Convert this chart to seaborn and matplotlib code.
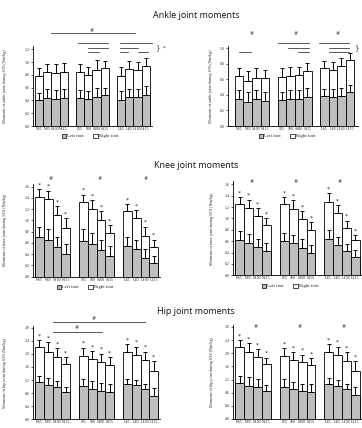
import numpy as np
import pandas as pd
import seaborn as sns
import matplotlib
matplotlib.use('Agg')
import matplotlib.pyplot as plt
from matplotlib.patches import Patch
from matplotlib.ticker import FormatStrFormatter

sns.set_theme(style='ticks')
plt.rcParams['font.family'] = ['Liberation Serif', 'DejaVu Serif']

# conditions, one bar each
labels = ['N65', 'N80', 'N100', 'N115', 'S65', 'S80', 'S100', 'S115',
          'U65', 'U80', 'U100', 'U115']
pos = [0, 1, 2, 3, 5, 6, 7, 8, 10, 11, 12, 13]

# ankle
ankle_l_left = [0.41, 0.44, 0.43, 0.44, 0.44, 0.42, 0.46, 0.48, 0.41, 0.46, 0.46, 0.49]
ankle_l_left_sd = [0.11, 0.14, 0.14, 0.14, 0.13, 0.13, 0.13, 0.12, 0.13, 0.12, 0.12, 0.14]
ankle_l_right = [0.38, 0.40, 0.40, 0.41, 0.41, 0.38, 0.42, 0.42, 0.38, 0.43, 0.41, 0.45]
ankle_l_right_sd = [0.12, 0.13, 0.14, 0.13, 0.12, 0.12, 0.15, 0.11, 0.13, 0.13, 0.13, 0.13]

ankle_r_left = [0.35, 0.31, 0.34, 0.32, 0.33, 0.34, 0.34, 0.37, 0.38, 0.37, 0.39, 0.43]
ankle_r_left_sd = [0.11, 0.12, 0.12, 0.12, 0.11, 0.12, 0.12, 0.12, 0.10, 0.11, 0.10, 0.10]
ankle_r_right = [0.29, 0.27, 0.28, 0.29, 0.30, 0.30, 0.31, 0.33, 0.36, 0.35, 0.38, 0.41]
ankle_r_right_sd = [0.10, 0.12, 0.12, 0.11, 0.11, 0.12, 0.11, 0.11, 0.09, 0.10, 0.10, 0.10]

# knee
knee_l_left = [0.70, 0.66, 0.53, 0.41, 0.63, 0.58, 0.47, 0.37, 0.54, 0.50, 0.34, 0.24]
knee_l_left_sd = [0.18, 0.19, 0.17, 0.18, 0.21, 0.20, 0.19, 0.18, 0.17, 0.16, 0.15, 0.12]
knee_l_right = [0.72, 0.72, 0.56, 0.46, 0.69, 0.63, 0.53, 0.40, 0.62, 0.55, 0.38, 0.28]
knee_l_right_sd = [0.14, 0.15, 0.16, 0.17, 0.14, 0.15, 0.16, 0.15, 0.13, 0.14, 0.17, 0.14]

knee_r_left = [0.62, 0.57, 0.49, 0.42, 0.60, 0.56, 0.48, 0.39, 0.63, 0.53, 0.42, 0.32]
knee_r_left_sd = [0.16, 0.16, 0.15, 0.14, 0.15, 0.15, 0.16, 0.15, 0.17, 0.15, 0.13, 0.12]
knee_r_right = [0.63, 0.61, 0.56, 0.46, 0.65, 0.61, 0.51, 0.41, 0.66, 0.56, 0.42, 0.30]
knee_r_right_sd = [0.13, 0.15, 0.13, 0.12, 0.13, 0.15, 0.14, 0.14, 0.15, 0.14, 0.12, 0.09]

# hip
hip_l_left = [1.13, 1.04, 0.98, 0.85, 1.01, 0.93, 0.86, 0.83, 1.08, 1.04, 0.92, 0.72]
hip_l_left_sd = [0.19, 0.21, 0.19, 0.15, 0.22, 0.24, 0.24, 0.26, 0.16, 0.16, 0.16, 0.23]
hip_l_right = [1.08, 1.03, 0.93, 0.83, 0.94, 0.90, 0.88, 0.82, 0.99, 0.93, 0.88, 0.76]
hip_l_right_sd = [0.21, 0.28, 0.26, 0.22, 0.24, 0.26, 0.27, 0.26, 0.22, 0.25, 0.27, 0.30]

hip_r_left = [1.11, 1.01, 0.96, 0.85, 0.98, 0.90, 0.86, 0.83, 1.05, 1.01, 0.90, 0.72]
hip_r_left_sd = [0.20, 0.28, 0.25, 0.18, 0.23, 0.23, 0.22, 0.23, 0.19, 0.17, 0.16, 0.26]
hip_r_right = [1.07, 1.04, 0.93, 0.82, 0.94, 0.91, 0.86, 0.80, 0.99, 0.95, 0.88, 0.74]
hip_r_right_sd = [0.22, 0.27, 0.23, 0.20, 0.23, 0.22, 0.24, 0.23, 0.24, 0.24, 0.26, 0.30]

GRAY = '#bebebe'
W, H = 362, 428

fig = plt.figure(figsize=(W / 100, H / 100), dpi=100)
fig.patch.set_facecolor('white')


def make_axes(ax_x, b0, u, xmax, y0, py, ytop):
    # place an axes using pixel geometry of the reference
    xmin = -0.5 - (b0 - ax_x) / u
    x1 = b0 + (xmax + 0.5) * u
    ytop_px = y0 - ytop * py
    ax = fig.add_axes([ax_x / W, 1 - y0 / H, (x1 - ax_x) / W, (y0 - ytop_px) / H])
    ax.set_xlim(xmin, xmax)
    ax.set_ylim(0, ytop)
    return ax


def draw_panel(ax, left, left_sd, right, right_sd, ylabel, yticks, stars):
    total = np.array(left) + np.array(right)
    df = pd.DataFrame({'pos': pos, 'left': left, 'total': total})
    sns.barplot(data=df, x='pos', y='total', native_scale=True, color='white',
                edgecolor='black', linewidth=0.6, width=1, saturation=1,
                errorbar=None, ax=ax)
    sns.barplot(data=df, x='pos', y='left', native_scale=True, color=GRAY,
                edgecolor='black', linewidth=0.6, width=1, saturation=1,
                errorbar=None, ax=ax)
    ax.errorbar(pos, left, yerr=[np.zeros(12), left_sd], fmt='none',
                ecolor='black', elinewidth=0.7, capsize=1.6, capthick=0.7, zorder=4)
    ax.errorbar(pos, total, yerr=[np.zeros(12), right_sd], fmt='none',
                ecolor='black', elinewidth=0.7, capsize=1.6, capthick=0.7, zorder=4)
    if stars:
        for x, t, s in zip(pos, total, right_sd):
            ax.annotate('*', (x, t + s), xytext=(0, 1.2), textcoords='offset points',
                        ha='center', va='bottom', fontsize=4.5, family='DejaVu Sans',
                        annotation_clip=False)
    ax.set_xticks(pos)
    ax.set_xticklabels(labels, fontsize=2.8)
    ax.set_yticks(yticks)
    ax.yaxis.set_major_formatter(FormatStrFormatter('%.1f'))
    ax.tick_params(axis='y', labelsize=2.8, length=1.5, width=0.5, pad=0.8)
    ax.tick_params(axis='x', length=0, pad=0.8)
    ax.set_xlabel('')
    ax.set_ylabel(ylabel, fontsize=3.0)
    for sp in ['top', 'right']:
        ax.spines[sp].set_visible(False)
    for sp in ['left', 'bottom']:
        ax.spines[sp].set_linewidth(0.6)
        ax.spines[sp].set_color('black')


def seg(ax, x0, x1, y, lw=0.7):
    ax.plot([x0, x1], [y, y], color='#555555', lw=lw, clip_on=False, zorder=5)


def mark(ax, x, y, s='#', fs=3.6):
    ax.text(x, y, s, ha='center', va='center', fontsize=fs, family='DejaVu Sans',
            color='#333333', clip_on=False)


def add_legend(cx, cy):
    handles = [Patch(facecolor=GRAY, edgecolor='black', linewidth=0.5, label='Left foot'),
               Patch(facecolor='white', edgecolor='black', linewidth=0.5, label='Right foot')]
    fig.legend(handles=handles, loc='center', bbox_to_anchor=(cx / W, 1 - cy / H),
               ncol=2, frameon=False, fontsize=3.4, handlelength=0.9, handleheight=0.9,
               handletextpad=0.3, columnspacing=2.0, borderaxespad=0, borderpad=0)


t_ank = np.round(np.arange(0, 1.21, 0.2), 1)
t_ank_r = np.round(np.arange(0, 1.01, 0.2), 1)
t_knee = np.round(np.arange(0, 1.61, 0.2), 1)
t_hip = np.round(np.arange(0, 2.81, 0.4), 1)

# ---- ankle ----
ax1 = make_axes(33, 35, 8.2, 13.75, 126, 63.9, 1.25)
draw_panel(ax1, ankle_l_left, ankle_l_left_sd, ankle_l_right, ankle_l_right_sd,
           'Moments of ankle joint during STS (Nm/kg)', t_ank, False)
ax1.yaxis.set_label_coords(-26 / 119, 0.5)
seg(ax1, 1.4, 11.7, 1.455)
mark(ax1, 6.4, 1.50)
seg(ax1, 4.7, 8.4, 1.30)
seg(ax1, 6.0, 8.4, 1.22)
seg(ax1, 6.0, 7.3, 1.16)
seg(ax1, 9.9, 13.8, 1.30)
seg(ax1, 9.9, 12.1, 1.22)
seg(ax1, 9.9, 10.8, 1.16)
seg(ax1, 12.1, 13.3, 1.16)
mark(ax1, 14.4, 1.22, '}', 5)
mark(ax1, 15.2, 1.22, '*', 4)
add_legend(90, 136)

ax2 = make_axes(228, 235, 8.5, 14.0, 126, 78, 1.02)
draw_panel(ax2, ankle_r_left, ankle_r_left_sd, ankle_r_right, ankle_r_right_sd,
           'Moments of ankle joint during STS (Nm/kg)', t_ank_r, False)
ax2.yaxis.set_label_coords(-15 / 130, 0.5)
for x in [1.5, 6.6, 11.6]:
    mark(ax2, x, 1.19)
seg(ax2, 0.0, 1.4, 0.95)
seg(ax2, 4.6, 8.2, 1.06)
seg(ax2, 5.7, 8.2, 1.00)
seg(ax2, 6.9, 8.2, 0.95)
seg(ax2, 9.4, 12.9, 1.06)
seg(ax2, 10.6, 12.9, 1.00)
seg(ax2, 10.6, 12.9, 0.95)
mark(ax2, 13.8, 1.0, '}', 5)
add_legend(287, 136)

# ---- knee ----
ax3 = make_axes(33, 35, 8.8, 13.75, 276.7, 56.25, 1.65)
draw_panel(ax3, knee_l_left, knee_l_left_sd, knee_l_right, knee_l_right_sd,
           'Moments of knee joint during STS (Nm/kg)', t_knee, True)
ax3.yaxis.set_label_coords(-26 / 127, 0.5)
for x in [1.3, 6.9, 12.1]:
    mark(ax3, x, 1.74)
add_legend(85, 287)

ax4 = make_axes(232.7, 235.3, 8.9, 14.0, 275.3, 56.9, 1.65)
draw_panel(ax4, knee_r_left, knee_r_left_sd, knee_r_right, knee_r_right_sd,
           'Moments of knee joint during STS (Nm/kg)', t_knee, True)
ax4.yaxis.set_label_coords(-19 / 131, 0.5)
for x in [1.3, 6.3, 11.2]:
    mark(ax4, x, 1.645)
add_legend(290, 286)

# ---- hip ----
ax5 = make_axes(33, 35, 8.8, 13.75, 419.3, 32.7, 2.85)
draw_panel(ax5, hip_l_left, hip_l_left_sd, hip_l_right, hip_l_right_sd,
           'Moments of hip joint during STS (Nm/kg)', t_hip, True)
ax5.yaxis.set_label_coords(-26 / 127, 0.5)
seg(ax5, 1.6, 12.0, 2.975)
mark(ax5, 6.2, 3.07)
seg(ax5, 1.6, 7.1, 2.68)
mark(ax5, 4.2, 2.80)
add_legend(85, 432)

ax6 = make_axes(232.7, 235.3, 8.9, 14.0, 419, 32.86, 2.85)
draw_panel(ax6, hip_r_left, hip_r_left_sd, hip_r_right, hip_r_right_sd,
           'Moments of hip joint during STS (Nm/kg)', t_hip, True)
ax6.yaxis.set_label_coords(-19 / 131, 0.5)
for x in [1.8, 6.7, 11.7]:
    mark(ax6, x, 2.81)
add_legend(290, 432)

# section titles
for txt, y in [('Ankle joint moments', 16), ('Knee joint moments', 165),
               ('Hip joint moments', 312)]:
    fig.text(196 / W, 1 - y / H, txt, ha='center', va='center', fontsize=6.5,
             family=['Open Sans', 'DejaVu Sans'], color='#111111')

fig.savefig('out.png', dpi=100, facecolor='white')
